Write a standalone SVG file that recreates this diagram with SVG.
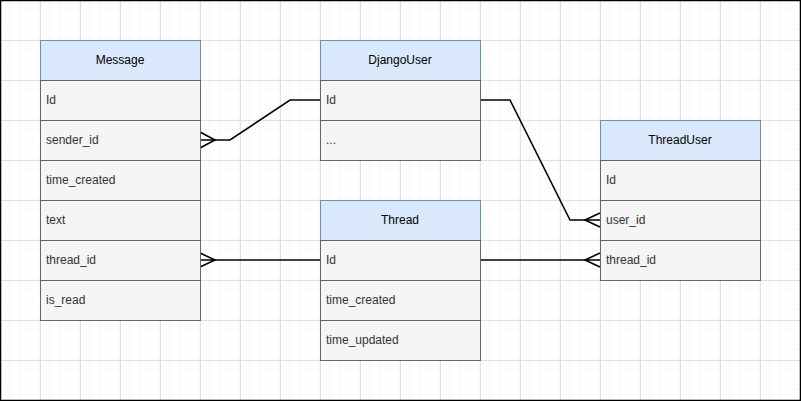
<svg xmlns="http://www.w3.org/2000/svg" width="801" height="401" viewBox="0 0 801 401">
<defs>
<pattern id="minor" width="10" height="10" patternUnits="userSpaceOnUse">
<path d="M10 0V10M0 10H10" fill="none" stroke="#f3f3f3" stroke-width="1"/>
</pattern>
<pattern id="major" width="40" height="40" patternUnits="userSpaceOnUse">
<rect width="40" height="40" fill="url(#minor)"/>
<path d="M0 0.5H40M0.5 0V40" fill="none" stroke="#e0e0e0" stroke-width="1"/>
</pattern>
</defs>
<style>
.hdr{fill:#dae8fc;stroke:#6c8ebf;stroke-width:1}
.row{fill:#f5f5f5;stroke:#666666;stroke-width:1}
.ht{font-family:"Liberation Sans",Arial,sans-serif;font-size:12px;fill:#000;text-anchor:middle;dominant-baseline:central}
.rt{font-family:"Liberation Sans",Arial,sans-serif;font-size:12px;fill:#333333;dominant-baseline:central}
.edge{fill:none;stroke:#000;stroke-width:1.6}
</style>
<rect x="0" y="0" width="801" height="401" fill="#fff"/>
<rect x="0" y="0" width="801" height="401" fill="url(#major)"/>
<rect x="0.5" y="0.5" width="800" height="400" fill="none" stroke="#000" stroke-width="1.5"/>

<g id="connectors">
<path class="edge" d="M200 140H230L290 100H320"/>
<path class="edge" d="M200 132L215 140L200 148"/>
<path class="edge" d="M480 100H510L570 220H600"/>
<path class="edge" d="M600 213L585 220L600 227"/>
<path class="edge" d="M200 260H320"/>
<path class="edge" d="M200 253L215 260L200 267"/>
<path class="edge" d="M480 260H600"/>
<path class="edge" d="M600 253L585 260L600 267"/>
</g>

<g id="Message">
<rect class="hdr" x="40.5" y="40.5" width="160" height="40"/>
<text class="ht" x="120" y="60">Message</text>
<rect class="row" x="40.5" y="80.5" width="160" height="40"/>
<text class="rt" x="46" y="100">Id</text>
<rect class="row" x="40.5" y="120.5" width="160" height="40"/>
<text class="rt" x="46" y="140">sender_id</text>
<rect class="row" x="40.5" y="160.5" width="160" height="40"/>
<text class="rt" x="46" y="180">time_created</text>
<rect class="row" x="40.5" y="200.5" width="160" height="40"/>
<text class="rt" x="46" y="220">text</text>
<rect class="row" x="40.5" y="240.5" width="160" height="40"/>
<text class="rt" x="46" y="260">thread_id</text>
<rect class="row" x="40.5" y="280.5" width="160" height="40"/>
<text class="rt" x="46" y="300">is_read</text>
</g>

<g id="DjangoUser">
<rect class="hdr" x="320.5" y="40.5" width="160" height="40"/>
<text class="ht" x="400" y="60">DjangoUser</text>
<rect class="row" x="320.5" y="80.5" width="160" height="40"/>
<text class="rt" x="326" y="100">Id</text>
<rect class="row" x="320.5" y="120.5" width="160" height="40"/>
<text class="rt" x="326" y="140">...</text>
</g>

<g id="Thread">
<rect class="hdr" x="320.5" y="200.5" width="160" height="40"/>
<text class="ht" x="400" y="220">Thread</text>
<rect class="row" x="320.5" y="240.5" width="160" height="40"/>
<text class="rt" x="326" y="260">Id</text>
<rect class="row" x="320.5" y="280.5" width="160" height="40"/>
<text class="rt" x="326" y="300">time_created</text>
<rect class="row" x="320.5" y="320.5" width="160" height="40"/>
<text class="rt" x="326" y="340">time_updated</text>
</g>

<g id="ThreadUser">
<rect class="hdr" x="600.5" y="120.5" width="160" height="40"/>
<text class="ht" x="680" y="140">ThreadUser</text>
<rect class="row" x="600.5" y="160.5" width="160" height="40"/>
<text class="rt" x="606" y="180">Id</text>
<rect class="row" x="600.5" y="200.5" width="160" height="40"/>
<text class="rt" x="606" y="220">user_id</text>
<rect class="row" x="600.5" y="240.5" width="160" height="40"/>
<text class="rt" x="606" y="260">thread_id</text>
</g>
</svg>
